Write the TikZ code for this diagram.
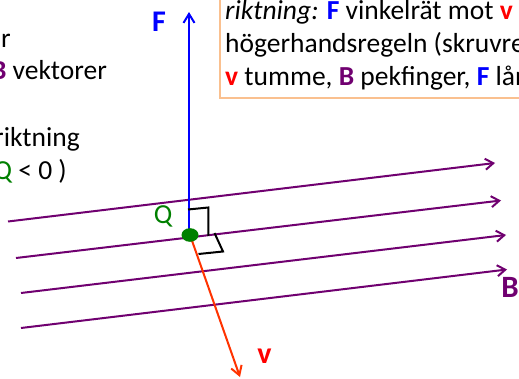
\documentclass[tikz,border=0pt]{standalone}
\usepackage{fontspec}
\setmainfont{Carlito}
\usetikzlibrary{arrows.meta}
\definecolor{fblue}{RGB}{0,0,255}
\definecolor{vred}{RGB}{255,0,0}
\definecolor{vline}{RGB}{255,51,0}
\definecolor{bpurple}{RGB}{112,0,112}
\definecolor{qgreen}{RGB}{0,128,0}
\definecolor{peach}{RGB}{250,192,143}
\tikzset{
  txt/.style={inner sep=0pt, font=\fontsize{27.5}{33}\selectfont},
  bline/.style={draw=bpurple, line width=2pt, -{Straight Barb[length=8pt,width=11pt,line width=2pt]}},
  farrow/.style={draw=fblue, line width=2pt, -{Straight Barb[length=9pt,width=11pt,line width=2pt]}},
  varrow/.style={draw=vline, line width=2pt, -{Straight Barb[length=9pt,width=11pt,line width=2pt]}},
  rmark/.style={draw=black, line width=2pt},
  lbl/.style={inner sep=0pt, font=\fontsize{30}{33}\selectfont\bfseries},
}
\begin{document}
\begin{tikzpicture}[x=1pt,y=-1pt]
\useasboundingbox (0,0) rectangle (519,379);
\clip (0,0) rectangle (519,379);
\fill[white] (0,0) rectangle (519,379);
% coordinates
\coordinate (B1s) at (8,221.5);   \coordinate (B1e) at (495,163);
\coordinate (B2s) at (16,258);    \coordinate (B2e) at (501,200.5);
\coordinate (B3s) at (21,293);    \coordinate (B3e) at (506,235);
\coordinate (B4s) at (21,328);    \coordinate (B4e) at (507,269.5);
\coordinate (Q) at (190,235);
\coordinate (Fbase) at (189,235);
\coordinate (Ftip) at (189,12);
\coordinate (vtip) at (240,377);
% right box
\draw[draw=peach, line width=2pt, fill=white] (220,-10) rectangle (540,98);
\node[txt, anchor=base west] (r1) at (225,20) {\textit{riktning:} \textcolor{fblue}{\textbf{F}} vinkelrät mot \textcolor{vred}{\textbf{v}} och \textcolor{bpurple}{\textbf{B}}};
\node[txt, anchor=base west] (r2) at (225,53) {högerhandsregeln (skruvregeln)};
\node[txt, anchor=base west] (r3) at (225,86) {\textcolor{vred}{\textbf{v}} tumme, \textcolor{bpurple}{\textbf{B}} pekfinger, \textcolor{fblue}{\textbf{F}} långfinger};
% left text
\node[txt, anchor=base east] (l1) at (11,48) {ar};
\node[txt, anchor=base east] (l2) at (107,80) {\textcolor{bpurple}{\textbf{B}} vektorer};
\node[txt, anchor=base east] (l3) at (80,147) {riktning};
\node[txt, anchor=base east] (l4) at (67,180) {\textcolor{qgreen}{Q} < 0 )};
% field lines
\draw[bline] (B1s) -- (B1e);
\draw[bline] (B2s) -- (B2e);
\draw[bline] (B3s) -- (B3e);
\draw[bline] (B4s) -- (B4e);
% force and velocity
\draw[farrow] (Fbase) -- (Ftip);
\draw[varrow] (Q) -- (vtip);
% right-angle markers
\draw[rmark] (188,209.5) -- (208.3,207.5) -- (208.3,236);
\draw[rmark] (214.5,233) -- (223,251.5) -- (198.5,254);
% charge
\fill[qgreen] (Q) ellipse [x radius=8.5, y radius=6.8];
% labels
\node[txt, text=qgreen] (qlbl) at (163,216) {Q};
\node[lbl, text=fblue] (flbl) at (159,21.5) {F};
\node[lbl, text=vred] (vlbl) at (264.5,356) {v};
\node[lbl, text=bpurple, font=\fontsize{31}{33}\selectfont\bfseries] (blbl) at (510,287.5) {B};
\end{tikzpicture}
\end{document}
